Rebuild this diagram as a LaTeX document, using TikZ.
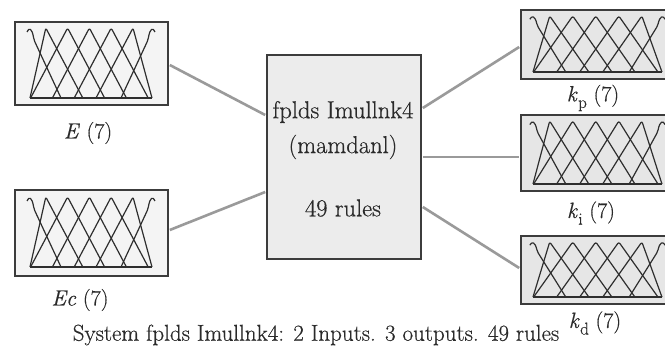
\documentclass[tikz,border=0pt]{standalone}
\usepackage{fontspec}
\setmainfont{Latin Modern Roman}[FakeBold=0.5]
\usetikzlibrary{calc}
\definecolor{edgec}{HTML}{3C3C3C}
\definecolor{wirec}{HTML}{9A9A9A}
\definecolor{inbg}{HTML}{F4F4F4}
\definecolor{midbg}{HTML}{ECECEC}
\definecolor{outbg}{HTML}{E6E6E6}
\definecolor{mfc}{HTML}{2E2E2E}
\definecolor{txtc}{HTML}{2A2A2A}
\tikzset{
  box/.style={draw=edgec, line width=1.8pt, inner sep=0pt, rectangle},
  inbox/.style={box, fill=inbg},
  midbox/.style={box, fill=midbg},
  outbox/.style={box, fill=outbg},
  wire/.style={draw=wirec, line width=2.6pt},
  mf/.style={draw=mfc, line width=1.2pt, rounded corners=2pt, line join=round},
  lbl/.style={text=txtc, inner sep=0pt, font=\fontsize{22}{26}\selectfont},
  caplbl/.style={text=txtc, inner sep=0pt, font=\fontsize{23}{27}\selectfont},
  midtxt/.style={text=txtc, inner sep=0pt, font=\fontsize{24.5}{28}\selectfont},
}
\newcommand\mficon[4]{%
  \begin{scope}[shift={(#1,#2)}, xscale=#3, yscale=#4]
    \draw[mf] (-3,4) .. controls (-1,-1) and (2,0) .. (4,12) -- (31,70);
    \draw[mf] (0,70) -- (15.8,0) -- (52.8,70);
    \draw[mf] (0.6,70) -- (37.6,0) -- (74.6,70);
    \draw[mf] (22.4,70) -- (59.4,0) -- (96.4,70);
    \draw[mf] (44.2,70) -- (81.2,0) -- (118.2,70);
    \draw[mf] (66,70) -- (103,0) -- (122,70);
    \draw[mf] (125,4) .. controls (123,-1) and (120,0) .. (118,12) -- (91,70);
    \draw[mf, rounded corners=0pt] (0,70) -- (122,70);
  \end{scope}}
\newcommand\kvar[1]{\textit{k}\kern0.5pt\raisebox{-0.3em}{\fontsize{17}{19}\selectfont #1}}
\begin{document}
\begin{tikzpicture}[x=1pt, y=-1pt]
  \useasboundingbox (0,0) rectangle (665,352);
  \clip (0,0) rectangle (665,352);
  \fill[white] (0,0) rectangle (665,352);

  % boxes
  \node[inbox, minimum width=153pt, minimum height=83pt] (E) at (91.5,63.5) {};
  \node[inbox, minimum width=153pt, minimum height=86pt] (Ec) at (91.5,233) {};
  \node[midbox, minimum width=154pt, minimum height=204pt] (C) at (344,157) {};
  \node[outbox, minimum width=149pt, minimum height=69pt] (kp) at (595.5,44.5) {};
  \node[outbox, minimum width=149pt, minimum height=76pt] (ki) at (595.5,153) {};
  \node[outbox, minimum width=149pt, minimum height=68pt] (kd) at (595.5,270) {};

  % membership function icons
  \mficon{30}{28}{1}{1}
  \mficon{30}{197}{1}{1}
  \mficon{533}{16}{1.057}{0.8}
  \mficon{533}{121}{1.057}{0.9}
  \mficon{533}{242}{1.057}{0.786}

  % connectors
  \draw[wire] ($(E.east)+(0.9,1.5)$) -- ($(C.west)+(-0.9,-42)$);
  \draw[wire] ($(Ec.east)+(0.9,-3)$) -- ($(C.west)+(-0.9,35)$);
  \draw[wire] ($(C.east)+(0.9,-49)$) -- ($(kp.west)+(-0.9,2.5)$);
  \draw[wire, line width=2.2pt] ($(C.east)+(0.9,0)$) -- ($(ki.west)+(-0.9,4)$);
  \draw[wire] ($(C.east)+(0.9,50)$) -- ($(kd.west)+(-0.9,-2)$);

  % texts
  \node[midtxt] (t1) at (343,112) {fplds Imullnk4};
  \node[midtxt] (t2) at (343,147) {(mamdanl)};
  \node[midtxt] (t3) at (343,208) {49 rules};
  \node[lbl] (Elab) at (88,133) {\textit{E} (7)};
  \node[lbl] (Eclab) at (80,300) {\textit{Ec} (7)};
  \node[lbl] (kplab) at (593,98) {\kvar{p} (7)};
  \node[lbl] (kilab) at (591,213) {\kvar{i} (7)};
  \node[lbl] (kdlab) at (595,323) {\kvar{d} (7)};
  \node[caplbl] (cap) at (316,335) {System fplds Imullnk4: 2 Inputs. 3 outputs. 49 rules};
\end{tikzpicture}
\end{document}
